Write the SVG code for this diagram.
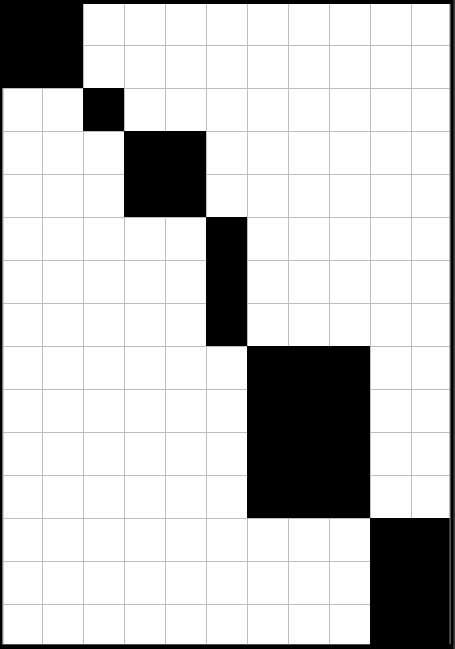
<svg xmlns="http://www.w3.org/2000/svg" width="455" height="649" viewBox="0 0 455 649">
  <style>
    .grid { stroke: #bdbdbd; stroke-width: 1; fill: none; }
    .blk { fill: #000000; }
    .edge { stroke: #7a7a7a; stroke-width: 1.2; fill: none; }
  </style>
  <rect x="0" y="0" width="455" height="649" fill="#000000"/>
  <rect x="2.5" y="4" width="447.5" height="640.3" fill="#ffffff"/>
  <g id="grid">
    <path class="grid" d="M42.5 4V644.3 M83.5 4V644.3 M124.5 4V644.3 M165.5 4V644.3 M206.5 4V644.3 M247.5 4V644.3 M288.5 4V644.3 M329.5 4V644.3 M370.5 4V644.3 M411.5 4V644.3"/>
    <path class="grid" d="M2.5 45.5H450 M2.5 88.5H450 M2.5 131.5H450 M2.5 174.5H450 M2.5 217.5H450 M2.5 260.5H450 M2.5 303.5H450 M2.5 346.5H450 M2.5 389.5H450 M2.5 432.5H450 M2.5 475.5H450 M2.5 518.5H450 M2.5 561.5H450 M2.5 604.5H450"/>
  </g>
  <g id="blocks">
    <rect class="blk" x="0" y="0" width="83" height="88"/>
    <rect class="blk" x="83" y="88" width="41" height="43"/>
    <rect class="blk" x="124" y="131" width="82" height="86"/>
    <rect class="blk" x="206" y="217" width="41" height="129"/>
    <rect class="blk" x="247" y="346" width="123" height="172"/>
    <rect class="blk" x="370" y="518" width="85" height="131"/>
  </g>
  <g id="frame">
    <path class="edge" d="M2.8 88V644.3"/>
    <path class="edge" d="M450.1 4V644.3"/>
    <rect x="453.3" y="0" width="1.7" height="649" fill="#3a3a3a"/>
  </g>
</svg>
